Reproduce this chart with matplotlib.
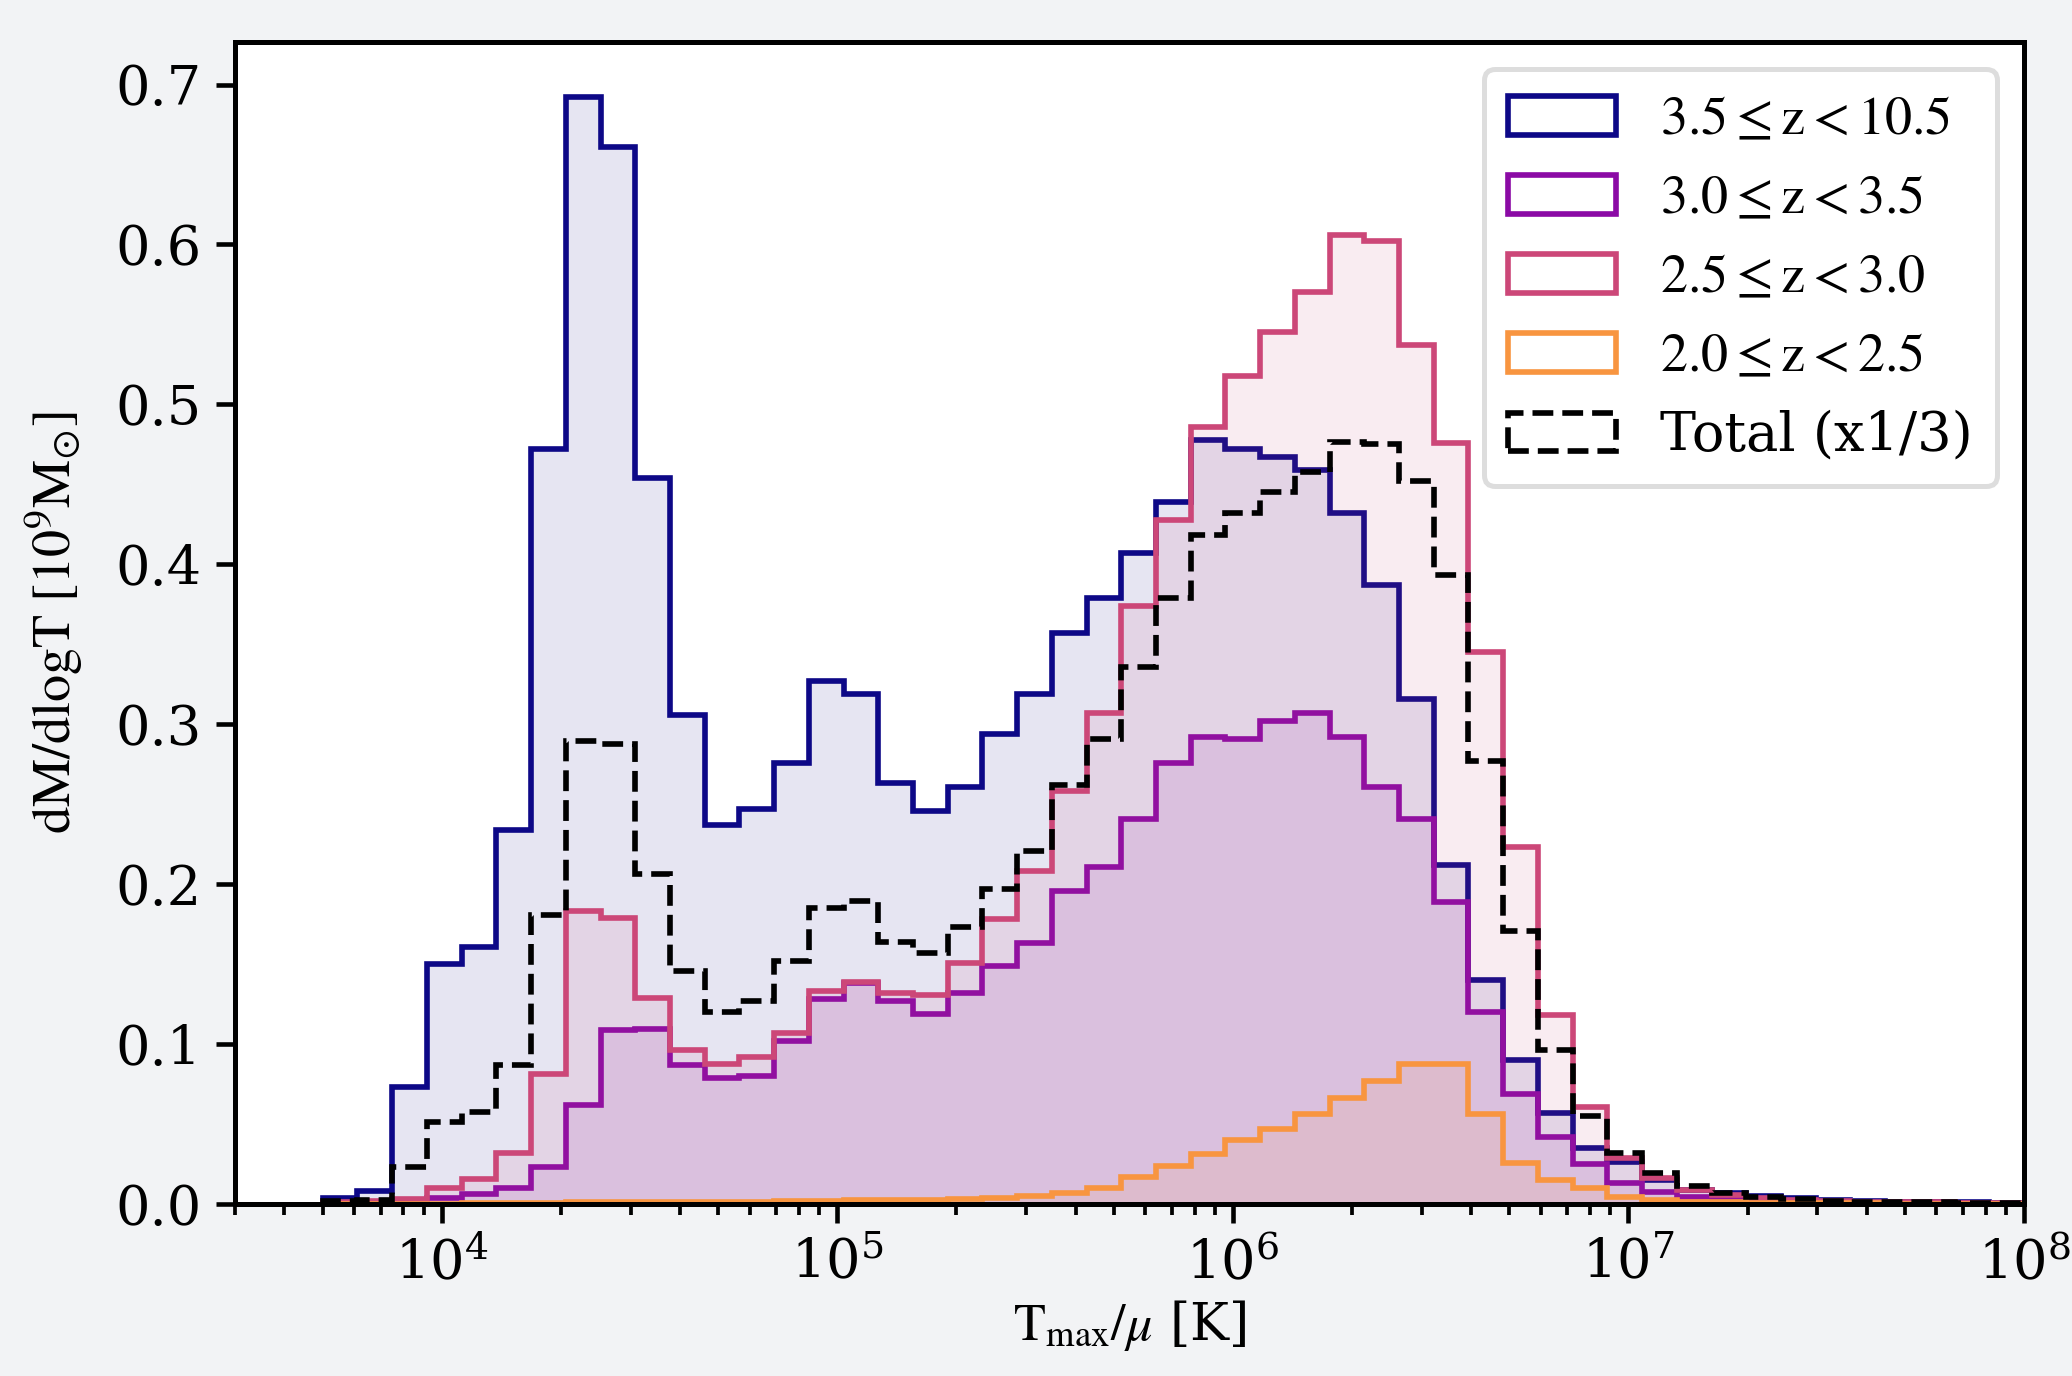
import numpy as np
import matplotlib
matplotlib.use("Agg")
import matplotlib.pyplot as plt
from matplotlib.patches import Patch

# ---- data ----
bin_lo, bin_hi, n_edges = 5e3, 1e8, 50
labels = [r"$\rm 3.5 \leq z < 10.5$", r"$\rm 3.0 \leq z < 3.5$",
          r"$\rm 2.5 \leq z < 3.0$", r"$\rm 2.0 \leq z < 2.5$"]
colors = ["#0d0887", "#8b0aa5", "#cc4778", "#f89540"]

z_35_105 = [0.004, 0.008, 0.073, 0.150, 0.161, 0.234, 0.472, 0.692, 0.661, 0.454,
            0.306, 0.237, 0.247, 0.276, 0.327, 0.319, 0.263, 0.246, 0.261, 0.294,
            0.319, 0.357, 0.379, 0.407, 0.439, 0.478, 0.472, 0.467, 0.459, 0.432,
            0.387, 0.316, 0.212, 0.140, 0.090, 0.057, 0.035, 0.026, 0.015, 0.009,
            0.007, 0.005, 0.0036, 0.0024, 0.002, 0.0015, 0.0012, 0.001, 0.0008]
z_30_35 = [0.0, 0.001, 0.0017, 0.0037, 0.006, 0.0103, 0.023, 0.062, 0.1086, 0.1094,
           0.087, 0.0786, 0.080, 0.102, 0.128, 0.138, 0.127, 0.119, 0.132, 0.149,
           0.163, 0.196, 0.211, 0.241, 0.276, 0.292, 0.291, 0.302, 0.307, 0.292,
           0.261, 0.241, 0.189, 0.120, 0.069, 0.042, 0.025, 0.013, 0.0075, 0.0045,
           0.003, 0.002, 0.0015, 0.001, 0.0008, 0.0006, 0.0005, 0.0004, 0.0003]
z_25_30 = [0.001, 0.002, 0.003, 0.0103, 0.0155, 0.032, 0.081, 0.1835, 0.179, 0.129,
           0.0965, 0.0876, 0.092, 0.107, 0.133, 0.139, 0.132, 0.131, 0.151, 0.178,
           0.208, 0.258, 0.307, 0.374, 0.428, 0.486, 0.5175, 0.545, 0.570, 0.606,
           0.602, 0.537, 0.4756, 0.345, 0.223, 0.118, 0.0605, 0.029, 0.016, 0.009,
           0.0054, 0.0036, 0.0027, 0.002, 0.0015, 0.0012, 0.001, 0.0008, 0.0006]
z_20_25 = [0.0001, 0.0002, 0.0003, 0.0003, 0.0004, 0.0005, 0.0006, 0.0012, 0.0012, 0.001,
           0.001, 0.0013, 0.0015, 0.0018, 0.002, 0.0022, 0.0024, 0.0026, 0.003, 0.004,
           0.005, 0.007, 0.0098, 0.017, 0.024, 0.031, 0.040, 0.047, 0.056, 0.066,
           0.077, 0.0875, 0.0875, 0.056, 0.0255, 0.015, 0.010, 0.0045, 0.0024, 0.0015,
           0.001, 0.0008, 0.0006, 0.0005, 0.0004, 0.0003, 0.0002, 0.0002, 0.0001]
total_third = [0.0017, 0.0026, 0.0233, 0.0514, 0.0577, 0.087, 0.1806, 0.2898, 0.2875, 0.2065,
               0.146, 0.120, 0.127, 0.152, 0.185, 0.1895, 0.1636, 0.157, 0.173, 0.197,
               0.221, 0.262, 0.2906, 0.3356, 0.379, 0.4186, 0.4318, 0.4454, 0.458, 0.4765,
               0.4753, 0.452, 0.3935, 0.2767, 0.171, 0.0964, 0.055, 0.032, 0.0195, 0.0114,
               0.0069, 0.0042, 0.003, 0.002, 0.0015, 0.0012, 0.001, 0.0008, 0.0006]
total_label = "Total (x1/3)"

# ---- style ----
plt.rcParams["font.family"] = "serif"
plt.rcParams["font.serif"] = ["DejaVu Serif"]
plt.rcParams["mathtext.fontset"] = "stix"

W, H, DPI = 2072, 1376, 300
LW = 1.35
fig = plt.figure(figsize=(W / DPI, H / DPI), dpi=DPI, facecolor="#f2f3f5")
ax = fig.add_axes([235 / W, 1 - 1204 / H, (2024 - 235) / W, (1204 - 42) / H])
ax.set_facecolor("white")

edges = np.logspace(np.log10(bin_lo), np.log10(bin_hi), n_edges)
series = [z_35_105, z_30_35, z_25_30, z_20_25]
handles = []
for vals, col, lab in zip(series, colors, labels):
    ax.stairs(vals, edges, fill=True, color=col, alpha=0.1, linewidth=0)
    ax.stairs(vals, edges, color=col, linewidth=LW)
    handles.append(Patch(facecolor="white", edgecolor=col, linewidth=LW, label=lab))
ax.stairs(total_third, edges, color="black", linestyle="--", linewidth=LW)
handles.append(Patch(facecolor="white", edgecolor="black", linestyle="--",
                     linewidth=LW, label=total_label))

ax.set_xscale("log")
ax.set_xlim(3e3, 1e8)
ymax = max(max(s) for s in series + [total_third])
ax.set_ylim(0, ymax * 1.05)
ax.set_yticks(np.arange(0, 0.71, 0.1))

ax.tick_params(axis="both", which="major", labelsize=13, width=1.1, length=4.5)
ax.tick_params(axis="x", which="minor", width=0.9, length=2.6)
for sp in ax.spines.values():
    sp.set_linewidth(1.2)

ax.set_xlabel(r"$\mathrm{T_{max}}/\mu$ [K]", fontsize=12.5, labelpad=2)
ax.set_ylabel(r"$\rm dM/dlogT\ [10^9 M_{\odot}]$", fontsize=13, labelpad=7)

leg = ax.legend(handles=handles, loc="upper right", fontsize=13,
                handlelength=2.0, handleheight=0.72, handletextpad=0.8,
                labelspacing=0.5, borderpad=0.45, borderaxespad=0.5,
                framealpha=0.8)
leg.get_frame().set_edgecolor("#d5d5d5")
leg.get_frame().set_linewidth(1.2)

fig.savefig("out.png", dpi=DPI, facecolor=fig.get_facecolor())
